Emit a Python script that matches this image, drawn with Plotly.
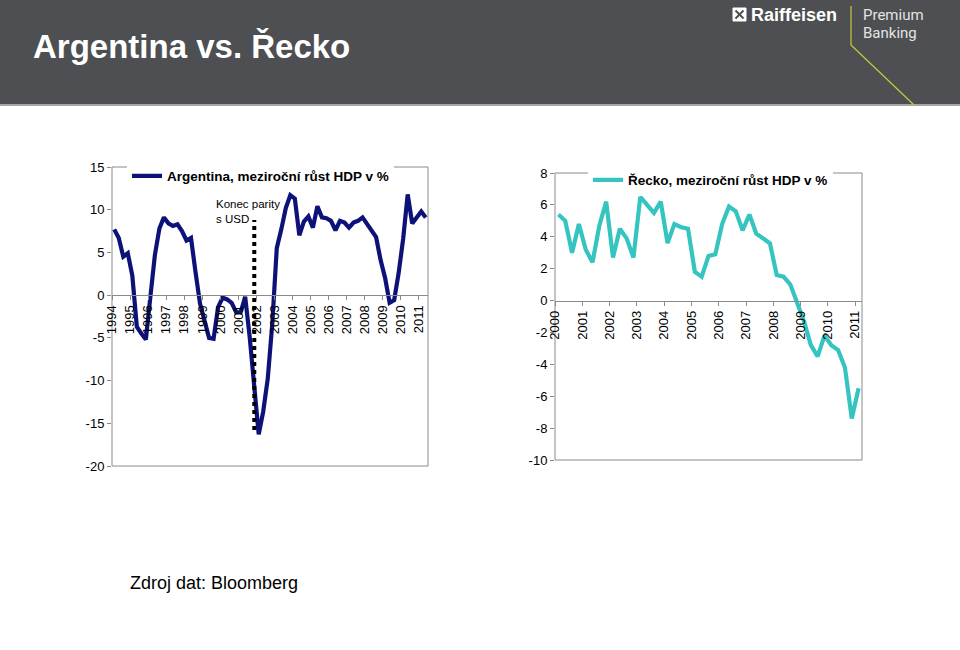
import plotly.graph_objects as go

# ---------------- data ----------------
arg_years = list(range(1994, 2012))
arg_growth = [7.7, 6.7, 4.5, 4.9,
              2.3, -3.7, -4.5, -5.2,
              -0.2, 4.7, 7.8, 9.1,
              8.4, 8.1, 8.3, 7.5,
              6.4, 6.7, 2.7, -1.0,
              -3.0, -5.0, -5.1, -1.4,
              -0.3, -0.5, -0.9, -2.0,
              -2.0, -0.2, -4.9, -10.5,
              -16.3, -13.6, -9.8, -3.4,
              5.5, 7.7, 10.2, 11.7,
              11.3, 7.0, 8.6, 9.2,
              7.9, 10.4, 9.1, 9.0,
              8.7, 7.6, 8.7, 8.5,
              7.9, 8.5, 8.7, 9.1,
              8.4, 7.6, 6.8, 4.1,
              2.0, -0.9, -0.6, 2.6,
              6.6, 11.8, 8.4, 9.1,
              9.8, 9.1]
arg_yticks = [-20, -15, -10, -5, 0, 5, 10, 15]

gr_years = list(range(2000, 2012))
gr_growth = [5.4, 5.0, 3.0, 4.8,
             3.2, 2.4, 4.7, 6.2,
             2.7, 4.5, 3.9, 2.7,
             6.5, 6.0, 5.5, 6.2,
             3.6, 4.8, 4.6, 4.5,
             1.8, 1.5, 2.8, 2.9,
             4.8, 5.9, 5.6, 4.4,
             5.4, 4.2, 3.9, 3.6,
             1.6, 1.5, 1.0, -0.1,
             -1.3, -2.8, -3.5, -2.2,
             -2.8, -3.1, -4.2, -7.4,
             -5.5]
gr_yticks = [-10, -8, -6, -4, -2, 0, 2, 4, 6, 8]

# end of the peso/USD parity marker (x in years, y span in %)
parity_x = 2001.88
parity_y = [-15.8, 8.8]

arg_name = "Argentina, meziroční růst HDP v %"
gr_name = "Řecko, meziroční růst HDP v %"
title_text = "Argentina vs. Řecko"
parity_text = "Konec parity<br>s USD"
source_text = "Zdroj dat: Bloomberg"

# quarter centres (categories on a year scale)
arg_x = [y + (q + 0.5) / 4 for y in arg_years for q in range(4)][:len(arg_growth)]
gr_x = [y + (q + 0.5) / 4 for y in gr_years for q in range(4)][:len(gr_growth)]

# ---------------- style ----------------
W, H = 960, 650
FONT = "Arial, Liberation Sans, sans-serif"
ARG_COLOR = "#0c1278"
GR_COLOR = "#35c4c0"
AXIS_GREY = "#8a8a8a"
HEADER = "#4d4f52"


def px(x):
    return x / W


def py(y):
    return 1 - y / H


L_dom_x = [px(112), px(428)]
L_dom_y = [py(466), py(167)]
R_dom_x = [px(555), px(862)]
R_dom_y = [py(460), py(173)]
L_yr = [-20, 15]
R_yr = [-10, 8]


def zero_pos(dom, rng):
    return dom[0] + (0 - rng[0]) / (rng[1] - rng[0]) * (dom[1] - dom[0])


fig = go.Figure()
fig.add_trace(go.Scatter(x=arg_x, y=arg_growth, mode="lines", name=arg_name,
                         line=dict(color=ARG_COLOR, width=4.2),
                         xaxis="x", yaxis="y", legend="legend", hoverinfo="skip"))
fig.add_trace(go.Scatter(x=[parity_x, parity_x], y=parity_y, mode="lines",
                         line=dict(color="black", width=4, dash="dot"),
                         xaxis="x", yaxis="y", showlegend=False, hoverinfo="skip"))
fig.add_trace(go.Scatter(x=gr_x, y=gr_growth, mode="lines", name=gr_name,
                         line=dict(color=GR_COLOR, width=4.2),
                         xaxis="x2", yaxis="y2", legend="legend2", hoverinfo="skip"))

xcommon = dict(tickangle=-90, ticks="outside", ticklen=4, tickcolor=AXIS_GREY,
               showline=True, linecolor=AXIS_GREY, linewidth=1, showgrid=False,
               zeroline=False, tickfont=dict(family=FONT, size=13, color="black"),
               anchor="free", fixedrange=True, automargin=False)
ycommon = dict(ticks="outside", ticklen=4, tickcolor=AXIS_GREY, showline=False,
               showgrid=False, zeroline=False, automargin=False,
               tickfont=dict(family=FONT, size=13, color="black"), fixedrange=True)

fig.update_layout(
    template="none",
    width=W, height=H, autosize=False,
    margin=dict(l=0, r=0, t=0, b=0, pad=0, autoexpand=False),
    paper_bgcolor="white", plot_bgcolor="white",
    font=dict(family=FONT, size=13, color="black"),
    xaxis=dict(domain=L_dom_x, range=[1994, 2011.5], tickvals=arg_years,
               ticktext=[str(y) for y in arg_years],
               position=zero_pos(L_dom_y, L_yr), **xcommon),
    yaxis=dict(domain=L_dom_y, range=L_yr, tickvals=arg_yticks,
               ticktext=[str(v) for v in arg_yticks], anchor="x", **ycommon),
    xaxis2=dict(domain=R_dom_x, range=[2000, 2011.25], tickvals=gr_years,
                ticktext=[str(y) for y in gr_years],
                position=zero_pos(R_dom_y, R_yr), **xcommon),
    yaxis2=dict(domain=R_dom_y, range=R_yr, tickvals=gr_yticks,
                ticktext=[str(v) for v in gr_yticks], anchor="x2", **ycommon),
    legend=dict(x=px(127), y=py(176), xanchor="left", yanchor="middle",
                bgcolor="white", borderwidth=0, itemwidth=30,
                font=dict(family=FONT, size=13.5, color="black", weight="bold")),
    legend2=dict(x=px(588), y=py(180), xanchor="left", yanchor="middle",
                 bgcolor="white", borderwidth=0, itemwidth=30,
                 font=dict(family=FONT, size=13.5, color="black", weight="bold")),
    showlegend=True,
)

shapes = [
    # header band
    dict(type="rect", xref="paper", yref="paper", x0=0, x1=1, y0=py(105), y1=1,
         fillcolor=HEADER, line=dict(width=0), layer="below"),
    dict(type="line", xref="paper", yref="paper", x0=0, x1=1, y0=py(105), y1=py(105),
         line=dict(color="#a5a5a5", width=2)),
    # logo icon
    dict(type="rect", xref="paper", yref="paper", x0=px(733), x1=px(746), y0=py(21), y1=py(8),
         fillcolor="white", line=dict(color="white", width=1)),
    dict(type="line", xref="paper", yref="paper", x0=px(735.5), x1=px(743.5), y0=py(10.5), y1=py(18.5),
         line=dict(color=HEADER, width=2)),
    dict(type="line", xref="paper", yref="paper", x0=px(735.5), x1=px(743.5), y0=py(18.5), y1=py(10.5),
         line=dict(color=HEADER, width=2)),
    # yellow logo lines
    dict(type="line", xref="paper", yref="paper", x0=px(851), x1=px(851), y0=py(6), y1=py(45),
         line=dict(color="#c9c93a", width=1.2)),
    dict(type="line", xref="paper", yref="paper", x0=px(851), x1=px(914), y0=py(45), y1=py(105),
         line=dict(color="#c9c93a", width=1.2)),
    # plot frames
    dict(type="rect", xref="x domain", yref="y domain", x0=0, x1=1, y0=0, y1=1,
         line=dict(color=AXIS_GREY, width=1), layer="below"),
    dict(type="rect", xref="x2 domain", yref="y2 domain", x0=0, x1=1, y0=0, y1=1,
         line=dict(color=AXIS_GREY, width=1), layer="below"),
]

annotations = [
    dict(text=title_text, x=px(31), y=py(46), xref="paper", yref="paper",
         xanchor="left", yanchor="middle", showarrow=False,
         font=dict(family=FONT, size=33, color="white", weight="bold")),
    dict(text="Raiffeisen", x=px(749), y=py(15), xref="paper", yref="paper",
         xanchor="left", yanchor="middle", showarrow=False,
         font=dict(family=FONT, size=18, color="white", weight="bold")),
    dict(text="Premium", x=px(861), y=py(15), xref="paper", yref="paper",
         xanchor="left", yanchor="middle", showarrow=False,
         font=dict(family="Roboto, " + FONT, size=15, color="#e4e4e4")),
    dict(text="Banking", x=px(861), y=py(33), xref="paper", yref="paper",
         xanchor="left", yanchor="middle", showarrow=False,
         font=dict(family="Roboto, " + FONT, size=15, color="#e4e4e4")),
    dict(text=parity_text, x=px(214), y=py(212), xref="paper", yref="paper",
         xanchor="left", yanchor="middle", align="left", showarrow=False,
         font=dict(family=FONT, size=11.5, color="black")),
    dict(text=source_text, x=px(128), y=py(583), xref="paper", yref="paper",
         xanchor="left", yanchor="middle", showarrow=False,
         font=dict(family=FONT, size=18, color="black")),
]

fig.update_layout(shapes=shapes, annotations=annotations)

page_fix = (
    "var s=document.documentElement.style;s.margin='0';s.padding='0';s.overflow='hidden';"
    "var b=document.body.style;b.margin='0';b.padding='0';b.overflow='hidden';"
    "var g=document.getElementsByClassName('plotly-graph-div')[0];"
    "g.style.position='absolute';g.style.left='0px';g.style.top='0px';"
    "window.scrollTo(0,0);"
)
fig.write_html("out.html", config={"displayModeBar": False}, post_script=page_fix)
